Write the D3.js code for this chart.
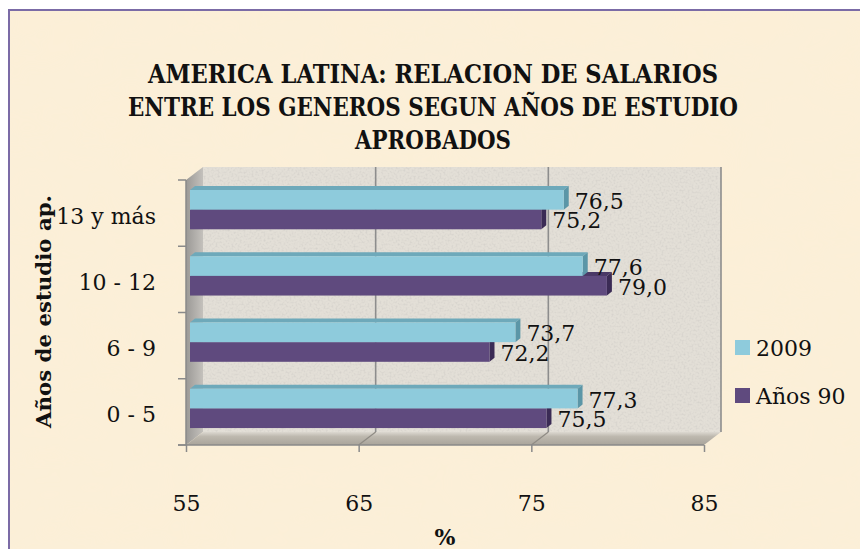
<!DOCTYPE html>
<html>
<head>
<meta charset="utf-8">
<script src="https://cdn.jsdelivr.net/npm/d3@7"></script>
<style>
  html, body { margin: 0; padding: 0; background: #ffffff; }
  svg { display: block; }
  text { font-family: "DejaVu Serif", "Liberation Serif", serif; fill: #111; }
</style>
</head>
<body>
<svg id="chart" width="860" height="549"></svg>
<script>
// ---------- data ----------
const categories = ["13 y más", "10 - 12", "6 - 9", "0 - 5"];
const seriesNames = ["2009", "Años 90"];
const values2009 = [76.5, 77.6, 73.7, 77.3];
const valuesAnos90 = [75.2, 79.0, 72.2, 75.5];
const xTickValues = [55, 65, 75, 85];
const titleLines = ["AMERICA LATINA: RELACION DE SALARIOS", "ENTRE LOS GENEROS SEGUN AÑOS DE ESTUDIO", "APROBADOS"];
const yAxisTitle = "Años de estudio ap.";
const xAxisTitle = "%";

// ---------- layout ----------
const W = 860, H = 549;
const front = { left: 186, right: 704, top: 180, bottom: 445 };
const depth = { dx: 17, dy: -13 };
const barShift = { dx: 4, dy: -3 };
const barDepth = { dx: 5, dy: -4 };
const colors = {
  "2009": { front: "#8ecbdc", top: "#6ea9ba", side: "#5b96a7" },
  "Años 90": { front: "#5f4a7e", top: "#4a3866", side: "#3b2b55" }
};

const svg = d3.select("#chart");
const defs = svg.append("defs");

// textures
const fBg = defs.append("filter").attr("id", "paper").attr("x", 0).attr("y", 0).attr("width", 1).attr("height", 1);
fBg.append("feTurbulence").attr("type", "fractalNoise").attr("baseFrequency", "0.012 0.02").attr("numOctaves", 3).attr("seed", 4).attr("result", "n");
fBg.append("feColorMatrix").attr("in", "n").attr("type", "matrix")
  .attr("values", "0 0 0 0 0.93  0 0 0 0 0.86  0 0 0 0 0.72  0 0 0 0.22 0").attr("result", "c");
fBg.append("feComposite").attr("in", "c").attr("in2", "SourceGraphic").attr("operator", "in");

const fWall = defs.append("filter").attr("id", "granite").attr("x", 0).attr("y", 0).attr("width", 1).attr("height", 1);
fWall.append("feTurbulence").attr("type", "fractalNoise").attr("baseFrequency", "0.5").attr("numOctaves", 2).attr("seed", 7).attr("result", "n");
fWall.append("feColorMatrix").attr("in", "n").attr("type", "matrix")
  .attr("values", "0 0 0 0 0.6  0 0 0 0 0.58  0 0 0 0 0.55  1.4 0 0 0 -0.62").attr("result", "c");
fWall.append("feComposite").attr("in", "c").attr("in2", "SourceGraphic").attr("operator", "in");

const gLeft = defs.append("linearGradient").attr("id", "leftWall").attr("x1", 0).attr("x2", 1).attr("y1", 0).attr("y2", 0);
gLeft.append("stop").attr("offset", 0).attr("stop-color", "#9b9996");
gLeft.append("stop").attr("offset", 1).attr("stop-color", "#c4c1bc");
const gFloor = defs.append("linearGradient").attr("id", "floor").attr("x1", 0).attr("x2", 0).attr("y1", 0).attr("y2", 1);
gFloor.append("stop").attr("offset", 0).attr("stop-color", "#dcd8d0");
gFloor.append("stop").attr("offset", 0.35).attr("stop-color", "#bdb8ae");
gFloor.append("stop").attr("offset", 1).attr("stop-color", "#a9a49b");

// background + frame
svg.append("rect").attr("x", 10).attr("y", 10).attr("width", W).attr("height", H).attr("fill", "#fcefd7");
svg.append("rect").attr("x", 10).attr("y", 10).attr("width", W).attr("height", H).attr("fill", "#fcefd7").attr("filter", "url(#paper)");
svg.append("rect").attr("x", 9).attr("y", 10).attr("width", W + 20).attr("height", H + 20)
  .attr("fill", "none").attr("stroke", "#7b6ba6").attr("stroke-width", 2);

// scales
const x = d3.scaleLinear().domain([55, 85]).range([front.left, front.right]);
const xBar = d3.scaleLinear().domain([55, 85]).range([192.5, 710.5]);
const y = d3.scaleBand().domain(categories).range([front.top, front.bottom]).paddingInner(0).paddingOuter(0);
const ySeries = d3.scaleBand().domain(seriesNames).range([13, 13 + 39.3]);

// back wall
svg.append("rect")
  .attr("x", front.left + depth.dx).attr("y", front.top + depth.dy)
  .attr("width", x(85) - x(55)).attr("height", front.bottom - front.top)
  .attr("fill", "#e3dfd7");
svg.append("rect")
  .attr("x", front.left + depth.dx).attr("y", front.top + depth.dy)
  .attr("width", x(85) - x(55)).attr("height", front.bottom - front.top)
  .attr("fill", "#e3dfd7").attr("filter", "url(#granite)");

// back wall gridlines
svg.append("g").selectAll("line").data(xTickValues.slice(1)).join("line")
  .attr("x1", d => x(d) + depth.dx).attr("x2", d => x(d) + depth.dx)
  .attr("y1", front.top + depth.dy).attr("y2", front.bottom + depth.dy)
  .attr("stroke", "#8d8d8d").attr("stroke-width", 1.6);

// left wall
svg.append("polygon")
  .attr("points", [[front.left, front.top], [front.left + depth.dx, front.top + depth.dy],
    [front.left + depth.dx, front.bottom + depth.dy], [front.left, front.bottom]].map(p => p.join(",")).join(" "))
  .attr("fill", "url(#leftWall)");

// floor
svg.append("polygon")
  .attr("points", [[x(55), front.bottom], [x(55) + depth.dx, front.bottom + depth.dy],
    [x(85) + depth.dx, front.bottom + depth.dy], [x(85), front.bottom]].map(p => p.join(",")).join(" "))
  .attr("fill", "url(#floor)");
svg.append("g").selectAll("line").data(xTickValues.slice(1, 3)).join("line")
  .attr("x1", d => x(d) + depth.dx).attr("x2", d => x(d))
  .attr("y1", front.bottom + depth.dy).attr("y2", front.bottom)
  .attr("stroke", "#8f8b84").attr("stroke-width", 1.2);

// axes (front edges)
const axisColor = "#8a8a8a";
svg.append("line").attr("x1", front.left).attr("x2", front.left).attr("y1", front.top).attr("y2", front.bottom)
  .attr("stroke", axisColor).attr("stroke-width", 1.5);
svg.append("line").attr("x1", front.left - 8).attr("x2", front.right).attr("y1", front.bottom).attr("y2", front.bottom)
  .attr("stroke", axisColor).attr("stroke-width", 1.5);

const xAxis = d3.axisBottom(x).tickValues(xTickValues).tickSize(7).tickPadding(43).tickFormat(d3.format("d"));
const gx = svg.append("g").attr("transform", `translate(0,${front.bottom})`).call(xAxis);
gx.select(".domain").remove();
gx.selectAll(".tick line").attr("stroke", axisColor).attr("stroke-width", 1.5);
gx.selectAll(".tick text").attr("font-size", 22).attr("font-family", "DejaVu Serif").attr("fill", "#111");

// category ticks on the left edge
const boundaries = categories.map(c => y(c)).concat([front.bottom]);
svg.append("g").selectAll("line").data(boundaries).join("line")
  .attr("x1", front.left - 8).attr("x2", front.left)
  .attr("y1", d => d).attr("y2", d => d)
  .attr("stroke", axisColor).attr("stroke-width", 1.5);
svg.append("g").selectAll("text").data(categories).join("text")
  .attr("x", 156).attr("y", d => y(d) + y.bandwidth() / 2 + 10.5)
  .attr("text-anchor", "end").attr("font-size", 22)
  .text(d => d);

// bars
const fmt = v => d3.format(".1f")(v).replace(".", ",");
const rows = [];
categories.forEach((c, i) => {
  rows.push({ cat: c, series: "Años 90", value: valuesAnos90[i] });
  rows.push({ cat: c, series: "2009", value: values2009[i] });
});
const x0 = front.left + barShift.dx;
const gBars = svg.append("g");
rows.forEach(r => {
  const col = colors[r.series];
  const yt = y(r.cat) + barShift.dy + ySeries(r.series);
  const yb = yt + ySeries.bandwidth();
  const xe = xBar(r.value);
  const g = gBars.append("g");
  g.append("polygon")
    .attr("points", [[x0, yt], [x0 + barDepth.dx, yt + barDepth.dy], [xe + barDepth.dx, yt + barDepth.dy], [xe, yt]].map(p => p.join(",")).join(" "))
    .attr("fill", col.top);
  g.append("polygon")
    .attr("points", [[xe, yt], [xe + barDepth.dx, yt + barDepth.dy], [xe + barDepth.dx, yb + barDepth.dy], [xe, yb]].map(p => p.join(",")).join(" "))
    .attr("fill", col.side);
  g.append("rect").attr("x", x0).attr("y", yt).attr("width", xe - x0).attr("height", yb - yt).attr("fill", col.front);
});
// value labels
svg.append("g").selectAll("text").data(rows).join("text")
  .attr("x", r => xBar(r.value) + 11)
  .attr("y", r => y(r.cat) + barShift.dy + ySeries(r.series) + ySeries.bandwidth() / 2 + 9)
  .attr("font-size", 22)
  .text(r => fmt(r.value));

// legend
const lg = svg.append("g").selectAll("g").data(seriesNames).join("g")
  .attr("transform", (d, i) => `translate(735,${340 + i * 48})`);
lg.append("rect").attr("width", 15).attr("height", 15).attr("fill", d => colors[d].front);
lg.append("text").attr("x", 21).attr("y", 16).attr("font-size", 22).text(d => d);

// title
const titleWidths = [570, 610, 156];
svg.append("g").selectAll("text").data(titleLines).join("text")
  .attr("x", 433).attr("y", (d, i) => 83 + i * 33)
  .attr("text-anchor", "middle").attr("font-weight", "bold").attr("font-size", 26)
  .attr("textLength", (d, i) => titleWidths[i]).attr("lengthAdjust", "spacingAndGlyphs")
  .text(d => d);

// axis titles
svg.append("text")
  .attr("transform", "translate(51,311.5) rotate(-90)")
  .attr("text-anchor", "middle").attr("font-weight", "bold").attr("font-size", 21)
  .attr("textLength", 233).attr("lengthAdjust", "spacingAndGlyphs")
  .text(yAxisTitle);
svg.append("text")
  .attr("x", 445).attr("y", 545)
  .attr("text-anchor", "middle").attr("font-weight", "bold").attr("font-size", 22)
  .text(xAxisTitle);
</script>
</body>
</html>
